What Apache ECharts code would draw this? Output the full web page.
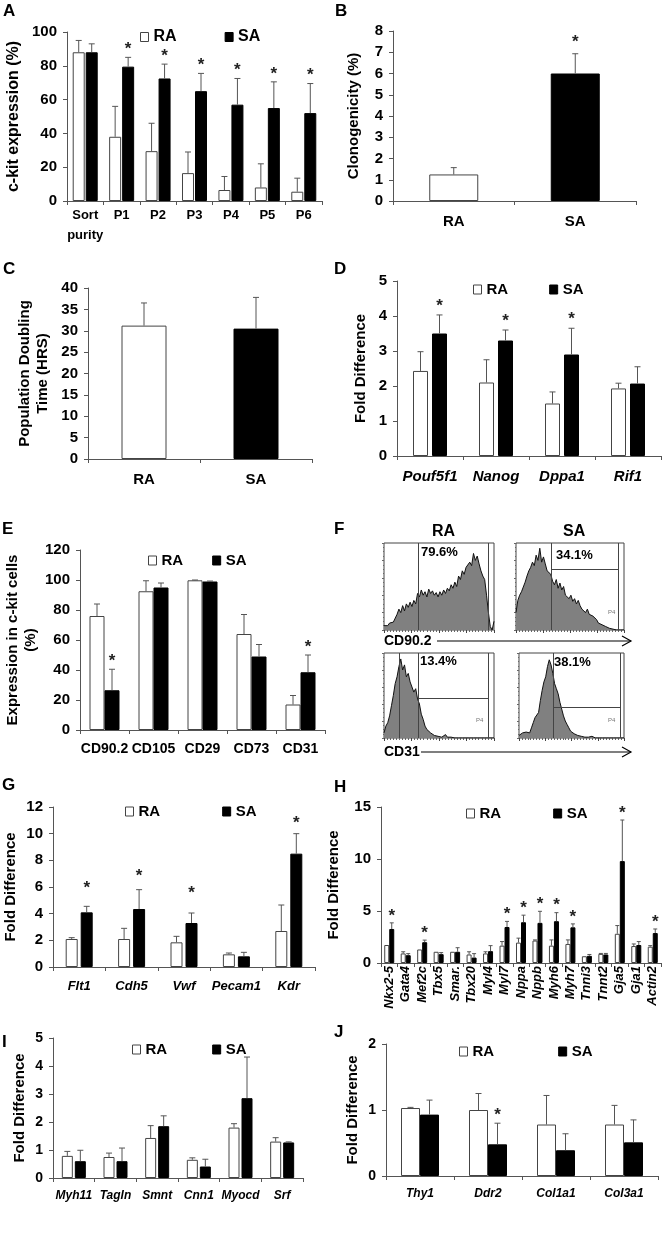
<!DOCTYPE html>
<html>
<head>
<meta charset="utf-8">
<script src="https://cdn.jsdelivr.net/npm/echarts@6/dist/echarts.min.js"></script>
<style>
html, body { margin: 0; padding: 0; background: #fff; }
#root { width: 662px; height: 1240px; }
</style>
</head>
<body>
<div id="root"></div>
<script>
// ---- data ----
// A: c-kit expression over passages
const aCats = ["Sort\npurity", "P1", "P2", "P3", "P4", "P5", "P6"];
const aRA = [88, 38, 29.5, 16.5, 6.5, 8, 5.5];
const aRAsd = [7, 18, 16.5, 12.5, 8, 14, 8];
const aSA = [88, 79.5, 72.5, 65, 57, 55, 52];
const aSAsd = [5, 5.5, 8.5, 10.5, 15.5, 15.5, 17.5];
const aStar = [0, 1, 1, 1, 1, 1, 1];

// B: clonogenicity
const bCats = ["RA", "SA"];
const bVals = [1.25, 6.0];
const bSd = [0.32, 0.93];
const bStar = [0, 1];

// C: population doubling time
const cCats = ["RA", "SA"];
const cVals = [31.2, 30.5];
const cSd = [5.3, 7.3];

// D: pluripotency genes
const dCats = ["Pouf5f1", "Nanog", "Dppa1", "Rif1"];
const dRA = [2.43, 2.1, 1.5, 1.93];
const dRAsd = [0.55, 0.65, 0.33, 0.15];
const dSA = [3.5, 3.3, 2.9, 2.07];
const dSAsd = [0.53, 0.3, 0.75, 0.48];
const dStar = [1, 1, 1, 0];

// E: surface markers
const eCats = ["CD90.2", "CD105", "CD29", "CD73", "CD31"];
const eRA = [76, 92.5, 99.8, 64, 17];
const eRAsd = [8, 7, 0.2, 13, 6];
const eSA = [26.5, 95, 99, 49, 38.5];
const eSAsd = [14, 3, 0.3, 8, 11.5];
const eStar = [1, 0, 0, 0, 1];

// F: flow histograms (counts per bin, % of panel height)
const fCd90RA = [5, 7, 5, 8, 6, 9, 7, 18, 24, 20, 28, 22, 30, 26, 32, 27, 34, 30, 42, 38,
  46, 40, 44, 38, 47, 42, 45, 40, 43, 38, 44, 40, 46, 42, 48, 45, 52, 48, 55, 50,
  62, 58, 68, 64, 72, 70, 78, 74, 88, 80, 85, 76, 68, 62, 58, 40, 20, 4, 0, 10];
const fCd90SA = [20, 34, 40, 44, 42, 55, 62, 68, 72, 78, 74, 86, 80, 94, 78, 84, 76, 68, 70, 64,
  56, 52, 58, 48, 54, 46, 50, 40, 38, 36, 40, 33, 36, 30, 34, 28, 24, 22, 20, 24,
  18, 20, 16, 14, 12, 8, 9, 6, 5, 4, 3, 2, 2, 1, 0, 0, 0, 0, 0, 0];
const fCd31RA = [6, 14, 18, 26, 38, 50, 64, 72, 84, 93, 80, 86, 72, 76, 66, 60, 54, 58, 46, 40,
  28, 22, 14, 10, 8, 6, 4, 3, 5, 2, 3, 1, 2, 4, 1, 0, 1, 0, 0, 0,
  0, 0, 0, 0, 0, 1, 0, 0, 0, 0, 0, 0, 0, 0, 0, 0, 0, 0, 0, 0];
const fCd31SA = [3, 5, 6, 4, 7, 8, 6, 12, 18, 24, 22, 30, 44, 56, 66, 72, 84, 92, 86, 76,
  64, 58, 52, 42, 34, 26, 20, 16, 12, 8, 6, 5, 4, 3, 4, 2, 3, 1, 2, 1,
  1, 2, 1, 0, 1, 0, 0, 0, 0, 0, 0, 0, 0, 0, 0, 0, 0, 0, 0, 0];
const fPct = ["79.6%", "34.1%", "13.4%", "38.1%"];

// G: endothelial genes
const gCats = ["Flt1", "Cdh5", "Vwf", "Pecam1", "Kdr"];
const gRA = [2.1, 2.1, 1.85, 0.95, 2.7];
const gRAsd = [0.1, 0.8, 0.45, 0.1, 1.95];
const gSA = [4.1, 4.35, 3.3, 0.8, 8.5];
const gSAsd = [0.45, 1.45, 0.75, 0.3, 1.5];
const gStar = [1, 1, 1, 0, 1];
const gStarAt = [5.9, 6.8, 5.5, 0, 10.8];

// H: cardiac genes
const hCats = ["Nkx2-5", "Gata4", "Mef2c", "Tbx5", "Smar.", "Tbx20", "Myl4", "Myl7", "Nppa",
  "Nppb", "Myh6", "Myh7", "Tnni3", "Tnnt2", "Gja5", "Gja1", "Actin2"];
const hRA = [1.73, 0.92, 1.3, 1.08, 1.08, 0.82, 0.92, 1.67, 1.96, 2.16, 1.67, 1.83, 0.65, 0.88, 2.81, 1.63, 1.57];
const hRAsd = [0, 0.16, 0, 0, 0, 0.26, 0.16, 0.39, 0.43, 0.06, 0.55, 0.39, 0, 0.04, 0.79, 0.2, 0.1];
const hSA = [3.27, 0.75, 2.0, 0.85, 1.08, 0.52, 1.14, 3.46, 3.92, 3.86, 4.02, 3.43, 0.69, 0.82, 9.8, 1.73, 2.88];
const hSAsd = [0.59, 0.15, 0.2, 0.15, 0.39, 0.38, 0.53, 0.54, 0.68, 1.11, 0.82, 0.33, 0.13, 0.1, 3.95, 0.33, 0.39];
const hStar = [1, 0, 1, 0, 0, 0, 0, 1, 1, 1, 1, 1, 0, 0, 1, 0, 1];

// I: smooth muscle genes
const iCats = ["Myh11", "Tagln", "Smnt", "Cnn1", "Myocd", "Srf"];
const iRA = [0.79, 0.75, 1.43, 0.65, 1.8, 1.3];
const iRAsd = [0.16, 0.14, 0.44, 0.07, 0.14, 0.14];
const iSA = [0.6, 0.6, 1.85, 0.41, 2.85, 1.27];
const iSAsd = [0.39, 0.47, 0.37, 0.26, 1.47, 0.02];

// J: fibroblast genes
const jCats = ["Thy1", "Ddr2", "Col1a1", "Col3a1"];
const jRA = [1.03, 1.0, 0.78, 0.78];
const jRAsd = [0.01, 0.25, 0.44, 0.29];
const jSA = [0.93, 0.48, 0.39, 0.51];
const jSAsd = [0.22, 0.32, 0.25, 0.34];
const jStar = [0, 1, 0, 0];

// ---- chart ----
const FF = "Liberation Sans, Arial, sans-serif";
const AX = "#555";
const RA_STYLE = { color: "#fff", borderColor: "#444", borderWidth: 1 };
const SA_STYLE = { color: "#000", borderColor: "#000", borderWidth: 1 };

const option = {
  animation: false,
  backgroundColor: "#fff",
  grid: [], xAxis: [], yAxis: [], series: [], legend: [], graphic: []
};

function errSeries(gi, vals, sds, stars, off, cap, gap, starAt) {
  return {
    type: "custom", xAxisIndex: gi, yAxisIndex: gi, z: 5, silent: true, clip: false,
    data: vals.map((v, i) => [i, v, sds[i], stars ? stars[i] : 0, starAt ? starAt[i] : -1]),
    renderItem: (params, api) => {
      const i = api.value(0), m = api.value(1), sd = api.value(2);
      const base = api.coord([i, m]);
      const top = api.coord([i, m + sd]);
      const cx = base[0] + off;
      const ch = [];
      if (sd > 0) {
        ch.push({ type: "line", shape: { x1: cx, y1: base[1], x2: cx, y2: top[1] }, style: { stroke: AX, lineWidth: 1 } });
        ch.push({ type: "line", shape: { x1: cx - cap, y1: top[1], x2: cx + cap, y2: top[1] }, style: { stroke: AX, lineWidth: 1 } });
      }
      if (api.value(3)) {
        const sy = api.value(4) > 0 ? api.coord([i, api.value(4)])[1] : top[1] - gap;
        ch.push({ type: "text", style: { text: "*", x: cx, y: sy, align: "center", verticalAlign: "middle", font: "bold 17px " + FF, fill: "#222" } });
      }
      return { type: "group", children: ch };
    }
  };
}

function barPanel(p) {
  const gi = option.grid.length;
  option.grid.push({ left: p.left, top: p.top, width: p.width, height: p.height });
  option.xAxis.push({
    gridIndex: gi, type: "category", data: p.cats,
    axisLine: { show: true, lineStyle: { color: AX } },
    axisTick: { show: true, length: 4, lineStyle: { color: AX } },
    axisLabel: Object.assign({ color: "#000", fontWeight: "bold", fontSize: p.xFont || 14, fontFamily: FF,
      margin: p.xMargin || 8, interval: 0, lineHeight: 20 }, p.xLabel || {})
  });
  option.yAxis.push({
    gridIndex: gi, type: "value", min: 0, max: p.max, interval: p.step,
    splitLine: { show: false },
    axisLine: { show: true, lineStyle: { color: AX } },
    axisTick: { show: true, length: 4, lineStyle: { color: AX } },
    axisLabel: { color: "#000", fontWeight: "bold", fontSize: p.yFont || 15, fontFamily: FF, margin: p.yMargin || 10 },
    name: p.yName, nameLocation: "middle", nameGap: p.nameGap,
    nameTextStyle: { color: "#000", fontWeight: "bold", fontSize: p.nameFont || 15, fontFamily: FF, lineHeight: 18 }
  });
  const cap = p.cap || 3;
  if (p.single) {
    option.series.push({
      name: "single" + gi, type: "bar", xAxisIndex: gi, yAxisIndex: gi, barWidth: p.barW,
      data: p.single.map((v, i) => ({ value: v, itemStyle: i === 0 ? RA_STYLE : SA_STYLE }))
    });
    option.series.push(errSeries(gi, p.single, p.singleSd, p.stars, 0, cap, p.starGap || 10));
  } else {
    const w = p.barW, g = p.gapPx || 0;
    const bg = (g / w * 100) + "%";
    option.series.push({ name: "RA", type: "bar", xAxisIndex: gi, yAxisIndex: gi, data: p.ra, barWidth: w, barGap: bg, itemStyle: RA_STYLE });
    option.series.push({ name: "SA", type: "bar", xAxisIndex: gi, yAxisIndex: gi, data: p.sa, barWidth: w, barGap: bg, itemStyle: SA_STYLE });
    option.series.push(errSeries(gi, p.ra, p.raSd, null, -(w + g) / 2, cap, 8));
    option.series.push(errSeries(gi, p.sa, p.saSd, p.stars, (w + g) / 2, cap, p.starGap || 8, p.starAt));
    option.legend.push({
      left: p.legLeft, top: p.legTop, icon: "rect", itemWidth: 8, itemHeight: 9, itemGap: p.legGap,
      selectedMode: false,
      textStyle: { color: "#000", fontWeight: "bold", fontSize: p.legFont || 15, fontFamily: FF },
      data: [{ name: "RA", itemStyle: RA_STYLE }, { name: "SA", itemStyle: SA_STYLE }]
    });
  }
}

function histPanel(h) {
  const gi = option.grid.length;
  const n = h.data.length - 1;
  option.grid.push({ left: h.left, top: h.top, width: h.width, height: h.height, show: true, borderColor: "#444", borderWidth: 1 });
  option.xAxis.push({
    gridIndex: gi, type: "value", min: 0, max: n, interval: n / 4,
    axisLine: { show: false }, axisLabel: { show: false }, splitLine: { show: false },
    axisTick: { show: true, length: 3, lineStyle: { color: "#444" } },
    minorTick: { show: true, splitNumber: 9, length: 2, lineStyle: { color: "#666" } }
  });
  option.yAxis.push({
    gridIndex: gi, type: "value", min: 0, max: 100, interval: 20,
    axisLine: { show: false }, axisLabel: { show: false }, splitLine: { show: false },
    axisTick: { show: true, length: 2, lineStyle: { color: "#666" } },
    minorTick: { show: true, splitNumber: 4, length: 1, lineStyle: { color: "#666" } }
  });
  option.series.push({
    type: "line", xAxisIndex: gi, yAxisIndex: gi, silent: true,
    data: h.data.map((v, i) => [i, v]),
    showSymbol: false, lineStyle: { color: "#111", width: 1 },
    areaStyle: { color: "#808080", opacity: 1 },
    markLine: {
      silent: true, symbol: "none", label: { show: false }, animation: false,
      lineStyle: { color: "#444", width: 1, type: "solid" },
      data: h.gates
    }
  });
}

// A
barPanel({ left: 67, top: 32, width: 255, height: 169, cats: aCats, ra: aRA, raSd: aRAsd, sa: aSA, saSd: aSAsd,
  stars: aStar, max: 100, step: 20, barW: 12, gapPx: 1, cap: 3, starGap: 8,
  yName: "c-kit expression (%)", nameGap: 44, nameFont: 16, xFont: 13, xMargin: 4,
  legLeft: 135, legTop: 24, legGap: 48, legFont: 16 });
// B
barPanel({ left: 393, top: 31, width: 243, height: 170, cats: bCats, single: bVals, singleSd: bSd, stars: bStar,
  max: 8, step: 1, barW: 49, cap: 3, starGap: 11, yName: "Clonogenicity (%)", nameGap: 30, xFont: 15, xMargin: 11 });
// C
barPanel({ left: 88, top: 288, width: 224, height: 171, cats: cCats, single: cVals, singleSd: cSd,
  max: 40, step: 5, barW: 45, cap: 3, yName: "Population Doubling\nTime (HRS)", nameGap: 36, xFont: 15, xMargin: 11 });
// D
barPanel({ left: 397, top: 281, width: 264, height: 175, cats: dCats, ra: dRA, raSd: dRAsd, sa: dSA, saSd: dSAsd,
  stars: dStar, max: 5, step: 1, barW: 15, gapPx: 4, cap: 3, starGap: 9,
  yName: "Fold Difference", nameGap: 27, xFont: 15, xMargin: 11, xLabel: { fontStyle: "italic" },
  legLeft: 468, legTop: 277, legGap: 41 });
// E
barPanel({ left: 80, top: 550, width: 245, height: 180, cats: eCats, ra: eRA, raSd: eRAsd, sa: eSA, saSd: eSAsd,
  stars: eStar, max: 120, step: 20, barW: 15, gapPx: 0, cap: 3, starGap: 8,
  yName: "Expression in c-kit cells\n(%)", nameGap: 40, xFont: 14, xMargin: 9,
  legLeft: 143, legTop: 548, legGap: 29 });
// G
barPanel({ left: 53, top: 807, width: 262, height: 160, cats: gCats, ra: gRA, raSd: gRAsd, sa: gSA, saSd: gSAsd,
  stars: gStar, starAt: gStarAt, max: 12, step: 2, barW: 12, gapPx: 3, cap: 3,
  yName: "Fold Difference", nameGap: 33, xFont: 13, xMargin: 9, xLabel: { fontStyle: "italic" },
  legLeft: 120, legTop: 799, legGap: 62 });
// H
barPanel({ left: 381, top: 807, width: 280, height: 156, cats: hCats, ra: hRA, raSd: hRAsd, sa: hSA, saSd: hSAsd,
  stars: hStar, max: 15, step: 5, barW: 5, gapPx: 0, cap: 2, starGap: 7,
  yName: "Fold Difference", nameGap: 38, xFont: 13, xMargin: 3, xLabel: { fontStyle: "italic", rotate: 90, lineHeight: 14 },
  legLeft: 461, legTop: 801, legGap: 52 });
// I
barPanel({ left: 53, top: 1038, width: 250, height: 140, cats: iCats, ra: iRA, raSd: iRAsd, sa: iSA, saSd: iSAsd,
  max: 5, step: 1, barW: 11, gapPx: 2, cap: 3, yFont: 14,
  yName: "Fold Difference", nameGap: 24, xFont: 12, xMargin: 8, xLabel: { fontStyle: "italic" },
  legLeft: 127, legTop: 1037, legGap: 45 });
// J
barPanel({ left: 386, top: 1044, width: 272, height: 132, cats: jCats, ra: jRA, raSd: jRAsd, sa: jSA, saSd: jSAsd,
  stars: jStar, max: 2, step: 1, barW: 19, gapPx: 0, cap: 3, starGap: 8, yFont: 14,
  yName: "Fold Difference", nameGap: 24, xFont: 12, xMargin: 8, xLabel: { fontStyle: "italic" },
  legLeft: 454, legTop: 1039, legGap: 64 });

// F histograms
histPanel({ left: 384, top: 543, width: 110, height: 87, data: fCd90RA,
  gates: [{ xAxis: 18.3 }, { xAxis: 55.8 }] });
histPanel({ left: 516, top: 543, width: 108, height: 87, data: fCd90SA,
  gates: [{ xAxis: 19.5 }, { xAxis: 56 }, [{ coord: [19.5, 70] }, { coord: [56, 70] }]] });
histPanel({ left: 384, top: 653, width: 110, height: 85, data: fCd31RA,
  gates: [{ xAxis: 8.3 }, { xAxis: 18.3 }, { xAxis: 55.8 }, [{ coord: [18.3, 47] }, { coord: [55.8, 47] }]] });
histPanel({ left: 519, top: 653, width: 105, height: 85, data: fCd31SA,
  gates: [{ xAxis: 19.5 }, { xAxis: 57 }, [{ coord: [19.5, 36] }, { coord: [57, 36] }]] });

// panel letters and annotations
const txt = (t, x, y, size, extra) => Object.assign({
  type: "text", left: x, top: y, silent: true,
  style: { text: t, font: "bold " + size + "px " + FF, fill: "#000" }
}, extra || {});
const letters = [["A", 3, 3], ["B", 335, 3], ["C", 3, 261], ["D", 334, 261], ["E", 2, 521],
  ["F", 334, 521], ["G", 2, 777], ["H", 334, 779], ["I", 2, 1034], ["J", 334, 1024]];
letters.forEach(l => option.graphic.push(txt(l[0], l[1], l[2], 17)));

option.graphic.push(txt("RA", 432, 524, 16));
option.graphic.push(txt("SA", 563, 524, 16));
option.graphic.push(txt(fPct[0], 421, 546, 13));
option.graphic.push(txt(fPct[1], 556, 549, 13));
option.graphic.push(txt(fPct[2], 420, 655, 13));
option.graphic.push(txt(fPct[3], 554, 656, 13));
[[476, 609], [608, 609], [476, 717], [608, 717]].forEach(p =>
  option.graphic.push({ type: "text", left: p[0], top: p[1], silent: true, style: { text: "P4", font: "6px " + FF, fill: "#777" } }));

option.graphic.push(txt("CD90.2", 384, 634, 14));
option.graphic.push(txt("CD31", 384, 745, 14));
[[437, 641], [421, 752]].forEach(a => {
  option.graphic.push({ type: "line", silent: true, shape: { x1: a[0], y1: a[1], x2: 631, y2: a[1] }, style: { stroke: "#000", lineWidth: 1.2 } });
  option.graphic.push({ type: "polyline", silent: true, shape: { points: [[622, a[1] - 5], [631, a[1]], [622, a[1] + 5]] }, style: { stroke: "#000", lineWidth: 1.2, fill: null } });
});

const chart = echarts.init(document.getElementById("root"), null, { renderer: "canvas" });
chart.setOption(option);
</script>
</body>
</html>
